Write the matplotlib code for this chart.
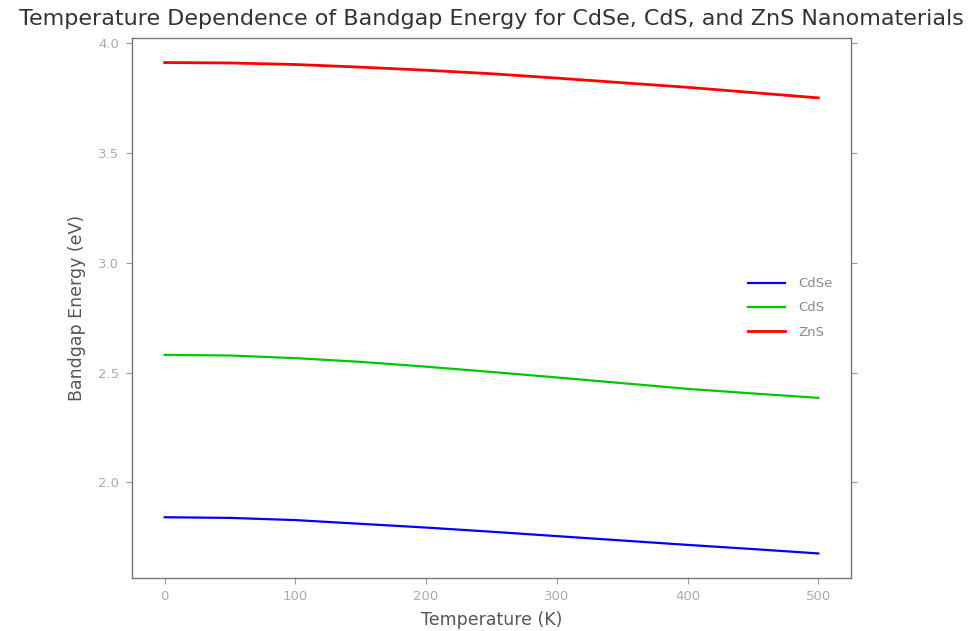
import matplotlib
matplotlib.use("Agg")
import matplotlib.pyplot as plt

temperature = [0, 50, 100, 150, 200, 250, 300, 350, 400, 450, 500]
cdse = [1.841, 1.838, 1.828, 1.811, 1.794, 1.775, 1.755, 1.735, 1.715, 1.696, 1.676]
cds = [2.581, 2.578, 2.566, 2.549, 2.527, 2.503, 2.478, 2.452, 2.426, 2.405, 2.385]
zns = [3.913, 3.911, 3.904, 3.892, 3.878, 3.862, 3.842, 3.821, 3.800, 3.776, 3.752]

fig = plt.figure(figsize=(9.74, 6.31), dpi=100)
ax = fig.add_axes([0.1355, 0.084, 0.7382, 0.8558])

ax.plot(temperature, cdse, color="#0000ff", lw=1.6, label="CdSe")
ax.plot(temperature, cds, color="#00c800", lw=1.6, label="CdS")
ax.plot(temperature, zns, color="#ff0000", lw=2.0, label="ZnS")

ax.set_xticks([0, 100, 200, 300, 400, 500])
ax.set_yticks([2.0, 2.5, 3.0, 3.5, 4.0])

for s in ax.spines.values():
    s.set_color("#777777")
    s.set_linewidth(1.0)
ax.tick_params(axis="both", colors="#999999", labelcolor="#aaaaaa", labelsize=9.5, length=4, pad=5)
ax.tick_params(top=False, right=True, direction="out")

ax.set_xlabel("Temperature (K)", fontsize=12.5, color="#555555", labelpad=5.5)
ax.set_ylabel("Bandgap Energy (eV)", fontsize=12.5, color="#555555", labelpad=9)
ax.set_title("Temperature Dependence of Bandgap Energy for CdSe, CdS, and ZnS Nanomaterials",
             fontsize=16, color="#333333", pad=9)

leg = ax.legend(loc="center right", frameon=False, fontsize=9.5, handlelength=2.8,
                labelspacing=0.85, labelcolor="#888888", borderaxespad=1.0, handletextpad=1.0)

fig.savefig("out.png", dpi=100)
